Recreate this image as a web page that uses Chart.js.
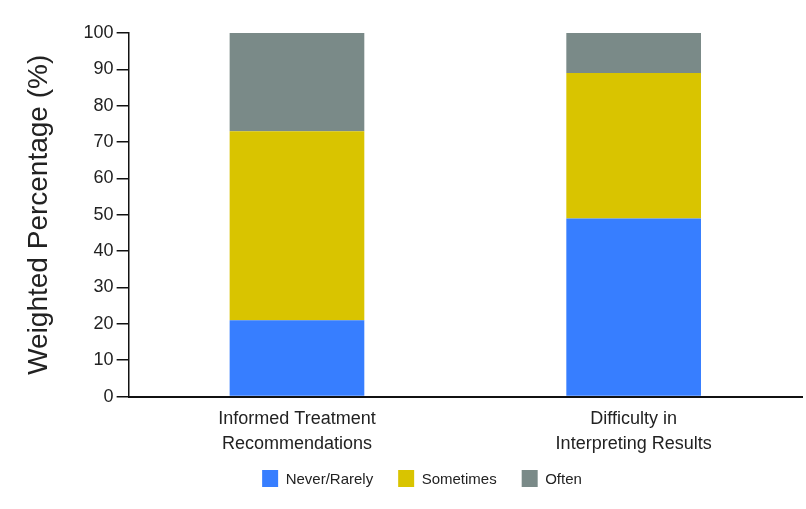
<!DOCTYPE html>
<html><head><meta charset="utf-8">
<script src="https://cdn.jsdelivr.net/npm/chart.js@4/dist/chart.umd.min.js"></script>
<style>html,body{margin:0;padding:0;background:#fff}#wrap{width:806px;height:509px}</style>
</head><body><div id="wrap"><canvas id="c" width="806" height="509"></canvas></div>
<script>
const categories = [["Informed Treatment","Recommendations"],["Difficulty in","Interpreting Results"]];
const neverRarely = [21, 49];
const sometimes = [52, 40];
const often = [27, 11];
const yTicks = [0,10,20,30,40,50,60,70,80,90,100];

const font = "'Liberation Sans', Arial, Helvetica, sans-serif";
const legendFit = {
  id:'legendFit',
  beforeLayout(chart){
    const lg = chart.legend;
    if(lg && !lg._patched){
      const f = lg.fit.bind(lg);
      lg.fit = function(){ f(); this.height -= 12; };
      const d = lg.draw.bind(lg);
      lg.draw = function(){ const ctx=this.ctx; ctx.save(); ctx.translate(10,-22); d(); ctx.restore(); };
      lg._patched = true;
    }
  }
};
new Chart(document.getElementById('c'), {
  type: 'bar',
  data: {
    labels: categories,
    datasets: [
      {label:'Never/Rarely', data: neverRarely, backgroundColor:'#377EFF'},
      {label:'Sometimes', data: sometimes, backgroundColor:'#D9C400'},
      {label:'Often', data: often, backgroundColor:'#7A8A88'}
    ]
  },
  plugins:[legendFit],
  options: {
    responsive:false, animation:false,
    layout:{padding:{top:33,right:4,left:22,bottom:0}},
    datasets:{bar:{barPercentage:0.4,categoryPercentage:1.0,borderWidth:0}},
    plugins:{
      legend:{position:'bottom',labels:{boxWidth:16,boxHeight:19,padding:25,color:'#222',font:{family:font,size:15}}},
      tooltip:{enabled:false}
    },
    scales:{
      x:{stacked:true,
        grid:{display:false,drawTicks:false},
        border:{display:true,color:'#111',width:2},
        ticks:{color:'#222',padding:10,font:{family:font,size:18,lineHeight:1.4}}},
      y:{stacked:true,min:0,max:100,
        afterBuildTicks:(ax)=>{ax.ticks=yTicks.map(v=>({value:v}));},
        grid:{drawOnChartArea:false,drawTicks:true,tickLength:12,color:'#111',lineWidth:1.5},
        border:{display:true,color:'#111',width:1.5},
        ticks:{color:'#222',padding:3,font:{family:font,size:18}},
        title:{display:true,text:'Weighted Percentage (%)',color:'#222',padding:{top:0,bottom:25},font:{family:font,size:28}}}
    }
  }
});
</script></body></html>
